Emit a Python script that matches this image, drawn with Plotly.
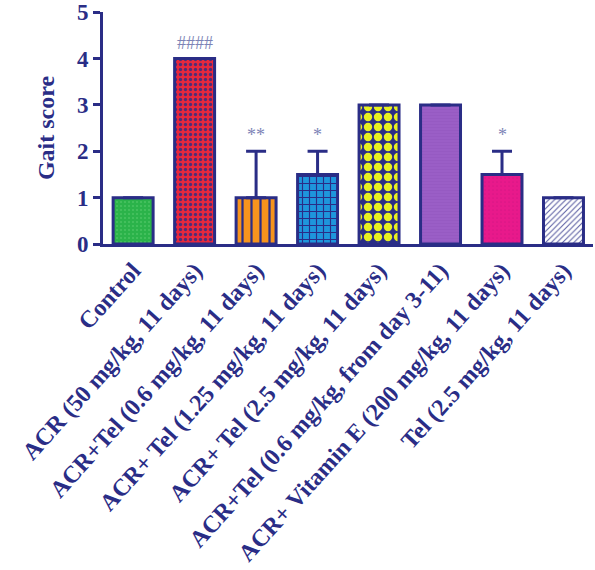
import plotly.graph_objects as go

groups = ["Control",
          "ACR (50 mg/kg, 11 days)",
          "ACR+Tel (0.6 mg/kg, 11 days)",
          "ACR+ Tel (1.25 mg/kg, 11 days)",
          "ACR+ Tel (2.5 mg/kg, 11 days)",
          "ACR+Tel (0.6 mg/kg, from day 3-11)",
          "ACR+ Vitamin E (200 mg/kg, 11 days)",
          "Tel (2.5 mg/kg, 11 days)"]
gait_mean = [1, 4, 1, 1.5, 3, 3, 1.5, 1]
gait_err = [0, 0, 1, 0.5, 0, 0, 0.5, 0]
signif = ["", "####", "**", "*", "", "", "*", ""]

navy = "#2a2d86"
# background colour, pattern colour, pattern shape, size, solidity for each bar
bgs = ["#2bb34a", "#e8283c", "#f7941d", "#1e96dc", navy, "#9a5ec6", "#e8198b", "#ffffff"]
fgs = ["#5ccf72", navy, navy, navy, "#e8f020", "#8a4cba", "#c81480", navy]
shapes = [".", ".", "|", "+", ".", "-", ".", "/"]
sizes = [4, 5, 9, 7, 10, 3, 4, 4]
solid = [0.2, 0.35, 0.25, 0.3, 0.55, 0.15, 0.15, 0.25]
fg_op = [0.6, 0.8, 1, 1, 1, 0.6, 0.5, 0.8]

fig = go.Figure()
for i, g in enumerate(groups):
    fig.add_trace(go.Bar(
        x=[i], y=[gait_mean[i]], name=g,
        marker=dict(color=bgs[i], line=dict(color=navy, width=3),
                    pattern=dict(shape=shapes[i], fgcolor=fgs[i], size=sizes[i],
                                 solidity=solid[i], fgopacity=fg_op[i], fillmode="overlay")),
        error_y=dict(type="data", array=[gait_err[i]], arrayminus=[0], symmetric=False,
                     color=navy, thickness=3, width=10),
        width=0.65,
    ))
    if signif[i]:
        fig.add_annotation(x=i, y=gait_mean[i] + gait_err[i], text=signif[i], showarrow=False,
                           yshift=16, font=dict(family="Liberation Serif", size=18, color="#7d84b6"))

fig.update_layout(
    width=595, height=570, plot_bgcolor="white", paper_bgcolor="white",
    margin=dict(l=103, r=2, t=12, b=326), showlegend=False, barmode="overlay",
    font=dict(family="Liberation Serif", color=navy),
)
fig.update_xaxes(range=[-0.49, 7.48], tickvals=list(range(len(groups))), ticktext=groups,
                 tickangle=-48, showline=True, linecolor=navy, linewidth=3, ticks="",
                 automargin=False,
                 tickfont=dict(family="Liberation Serif", size=24, color=navy, weight="bold"))
fig.update_yaxes(range=[0, 5.005], tickvals=[0, 1, 2, 3, 4, 5], showline=True, linecolor=navy,
                 linewidth=3, ticks="outside", ticklen=7, tickwidth=3, tickcolor=navy,
                 showgrid=False, zeroline=False, automargin=False, ticklabeloverflow="allow",
                 tickfont=dict(family="Liberation Serif", size=23, color=navy, weight="bold"),
                 title=dict(text="Gait score", standoff=16,
                            font=dict(family="Liberation Serif", size=24, color=navy, weight="bold")))

fig.write_html("out.html", config={"displayModeBar": False},
               post_script="document.body.style.margin = '0';")
